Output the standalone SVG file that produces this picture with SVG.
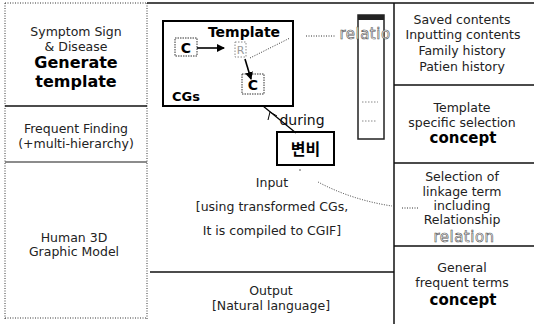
<svg xmlns="http://www.w3.org/2000/svg" width="534" height="324" viewBox="0 0 534 324">
<style>
.t{font-family:"DejaVu Sans","Liberation Sans",sans-serif;font-size:12.5px;fill:#222;text-anchor:middle}
.b{font-family:"DejaVu Sans","Liberation Sans",sans-serif;font-weight:bold;fill:#000;text-anchor:middle}
.r{font-family:"DejaVu Sans","Liberation Sans",sans-serif;font-size:15px;fill:#fff;stroke:#555;stroke-width:0.6;text-anchor:middle;letter-spacing:0.5px}
.dot{fill:none;stroke:#333;stroke-width:1;stroke-dasharray:1,1.5}
.sol{fill:none;stroke:#111;stroke-width:1.5}
.gdb{fill:none;stroke:#888;stroke-width:1;stroke-dasharray:1.5,1.5}
</style>
<defs>
<marker id="ah" markerWidth="8" markerHeight="8" refX="7" refY="4" orient="auto" markerUnits="userSpaceOnUse">
<path d="M0,0 L8,4 L0,8 Z" fill="#000"/>
</marker>
</defs>
<rect width="534" height="324" fill="#fff"/>

<g id="frame">
<path class="dot" d="M5,3 H147 M5,3 V319 M5,318 H147 M147,3 V320" stroke-width="1.6"/>
<path class="sol" d="M147,3 H534"/>
<path class="sol" d="M5,106 H147"/>
<path d="M5,162 H147" stroke="#666" stroke-width="1.5"/>
<path class="sol" d="M150,272 H394"/>
<path class="sol" d="M394,3 V324"/>
<path class="sol" d="M394,85 H534 M394,163 H534 M394,246 H534"/>
</g>

<g id="generate-template">
<text class="t" x="76" y="36">Symptom Sign</text>
<text class="t" x="76" y="51">&amp; Disease</text>
<text class="b" x="76" y="68" font-size="16">Generate</text>
<text class="b" x="76" y="87" font-size="16">template</text>
</g>

<g id="frequent-finding">
<text class="t" x="76" y="133">Frequent Finding</text>
<text class="t" x="76" y="148">(+multi-hierarchy)</text>
</g>

<g id="human-3d">
<text class="t" x="74" y="242">Human 3D</text>
<text class="t" x="74" y="256">Graphic Model</text>
</g>

<g id="template-box">
<rect x="163" y="21" width="130" height="85" fill="none" stroke="#000" stroke-width="2"/>
<text class="b" x="244" y="37" font-size="14">Template</text>
<text class="b" x="186" y="101" font-size="13">CGs</text>
<rect x="175" y="38" width="22" height="18" fill="none" stroke="#333" stroke-dasharray="1.5,1"/>
<text class="b" x="186" y="53" font-size="14">C</text>
<rect x="235" y="42" width="11" height="15" class="gdb"/>
<text x="240.5" y="54" font-family="DejaVu Sans,sans-serif" font-size="11" fill="#999" text-anchor="middle">R</text>
<rect x="242" y="74" width="22" height="20" fill="none" stroke="#333" stroke-dasharray="1.5,1"/>
<text class="b" x="253" y="90" font-size="14">C</text>
</g>

<g id="scrollbar">
<rect x="358" y="15" width="26" height="124" fill="none" stroke="#222" stroke-width="1.5"/>
<rect x="358" y="15" width="26" height="5" fill="#222"/>
<path d="M362,102 H378 M362,121 H376" class="gdb"/>
</g>

<g id="korean-box">
<rect x="277" y="132" width="57" height="33" fill="#fff" stroke="#000" stroke-width="2"/>
<text x="305.5" y="155" font-family="Noto Sans CJK KR,sans-serif" font-weight="bold" font-size="16" text-anchor="middle" fill="#000">변비</text>
</g>

<g id="input">
<text class="t" x="272" y="187">Input</text>
<text class="t" x="272" y="211">[using transformed CGs,</text>
<text class="t" x="272" y="235">It is compiled to CGIF]</text>
</g>

<g id="output">
<text class="t" x="271" y="295">Output</text>
<text class="t" x="271" y="310">[Natural language]</text>
</g>

<g id="saved-contents">
<text class="t" x="462" y="24">Saved contents</text>
<text class="t" x="463" y="39">Inputting contents</text>
<text class="t" x="462" y="55">Family history</text>
<text class="t" x="462" y="71">Patien history</text>
</g>

<g id="template-concept">
<text class="t" x="462" y="112">Template</text>
<text class="t" x="462" y="127">specific selection</text>
<text class="b" x="463" y="143" font-size="15">concept</text>
</g>

<g id="linkage-relation">
<text class="t" x="462" y="181">Selection of</text>
<text class="t" x="462" y="196">linkage term</text>
<text class="t" x="462" y="210">including</text>
<text class="t" x="462" y="224">Relationship</text>
<text class="r" x="464" y="242">relation</text>
</g>

<g id="general-concept">
<text class="t" x="462" y="272">General</text>
<text class="t" x="462" y="287">frequent terms</text>
<text class="b" x="463" y="305" font-size="15">concept</text>
</g>

<g id="connectors">
<path d="M197,48 H224" stroke="#000" stroke-width="1.6" marker-end="url(#ah)"/>
<path d="M245,59 L251,79" stroke="#000" stroke-width="1.6" marker-end="url(#ah)"/>
<path class="dot" d="M250,58 L290,38" stroke="#777"/>
<path class="dot" d="M306,36 H335"/>
<path d="M263,106 L296,133" stroke="#000" stroke-width="1.2"/>
<path d="M268,120 L270,112 L277,116" fill="none" stroke="#000" stroke-width="1"/>
<text x="302" y="125" font-family="DejaVu Sans,sans-serif" font-size="14" fill="#111" text-anchor="middle">during</text>
<circle cx="300" cy="170" r="0.8" fill="#444"/>
<path class="dot" d="M318,182 Q352,200 392,206 M402,208 H418" stroke="#555"/>
<text class="r" x="365" y="39">relatio</text>
</g>
</svg>
